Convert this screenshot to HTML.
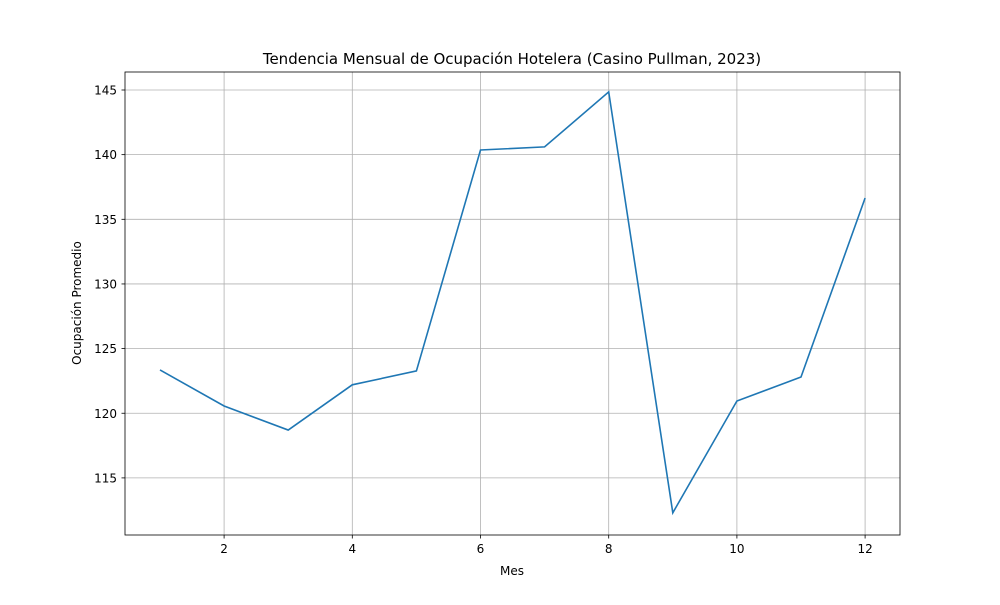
<!DOCTYPE html>
<html><head><meta charset="utf-8"><style>
body{margin:0;background:#fff;}
svg text{font-family:"DejaVu Sans","Liberation Sans",sans-serif;fill:#000;}
</style></head><body>
<svg id="chart" width="1000" height="600">
<rect width="1000" height="600" fill="#fff"/>
<g id="grid"></g>
<g id="axes"></g>
<polyline id="line" fill="none" stroke="#1f77b4" stroke-width="1.6"/>
<rect x="125" y="72" width="775" height="463" fill="none" stroke="#000" stroke-width="0.8"/>
<text x="512" y="64" text-anchor="middle" font-size="15">Tendencia Mensual de Ocupación Hotelera (Casino Pullman, 2023)</text>
<text x="512" y="575" text-anchor="middle" font-size="12">Mes</text>
<text x="81" y="303" text-anchor="middle" font-size="12" transform="rotate(-90 81 303)">Ocupación Promedio</text>
</svg>
<script>
const months=[1,2,3,4,5,6,7,8,9,10,11,12];
const occupancy=[123.35,120.56,118.7,122.2,123.27,140.36,140.6,144.85,112.3,120.95,122.8,136.65];
const xTicks=[2,4,6,8,10,12];
const yTicks=[115,120,125,130,135,140,145];
const ns="http://www.w3.org/2000/svg";
function xs(v){return 160+(v-1)*64.1;}
function ys(v){return 90+(145-v)*12.93;}
const grid=document.getElementById('grid'),axes=document.getElementById('axes');
function mk(tag,attrs,parent){const e=document.createElementNS(ns,tag);for(const k in attrs)e.setAttribute(k,attrs[k]);parent.appendChild(e);return e;}
xTicks.forEach(t=>{
 const x=xs(t);
 const g=mk('line',{x1:x,x2:x,y1:72,y2:535,stroke:'#b0b0b0','stroke-width':0.8},grid);
 
 
 mk('line',{x1:x,x2:x,y1:535,y2:538.5,stroke:'#000','stroke-width':0.8},axes);
 const tx=mk('text',{x:x,y:553,'text-anchor':'middle','font-size':12},axes);
 tx.textContent=t;
 
 
});
yTicks.forEach(t=>{
 const y=ys(t);
 const g=mk('line',{x1:125,x2:900,y1:y,y2:y,stroke:'#b0b0b0','stroke-width':0.8},grid);
 
 
 mk('line',{x1:121.5,x2:125,y1:y,y2:y,stroke:'#000','stroke-width':0.8},axes);
 const tx=mk('text',{x:117,y:y+4.5,'text-anchor':'end','font-size':12},axes);
 tx.textContent=t;
 
 
});
document.getElementById('line').setAttribute('points',months.map((m,i)=>xs(m)+','+ys(occupancy[i])).join(' '));
</script>
</body></html>
